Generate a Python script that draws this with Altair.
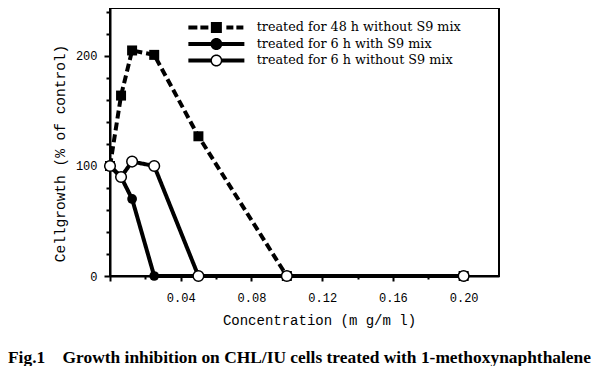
import altair as alt
import pandas as pd

# ---- data ----
conc = [0, 0.00625, 0.0125, 0.025, 0.05, 0.1, 0.2]
s48_noS9 = [100, 164, 205, 201, 127, 0, 0]
s6_S9 = [100, 90, 70, 0, 0, 0, 0]
s6_noS9 = [100, 90, 104, 100, 0, 0, 0]

series_names = [
    "treated for 48 h without S9 mix",
    "treated for 6 h with S9 mix",
    "treated for 6 h without S9 mix",
]
x_ticks = [0, 0.02, 0.04, 0.06, 0.08, 0.10, 0.12, 0.14, 0.16, 0.18, 0.20]
y_ticks = [0, 20, 40, 60, 80, 100, 120, 140, 160, 180, 200, 220, 240]

rows = []
for name, vals in zip(series_names, [s48_noS9, s6_S9, s6_noS9]):
    for c, v in zip(conc, vals):
        rows.append({"series": name, "conc": c, "growth": v})
df = pd.DataFrame(rows)

# legend symbols: line + marker as custom paths
path_dash_square = ("M-5.6,-0.4H-3.8V0.4H-5.6Z M-3.2,-0.4H-1.6V0.4H-3.2Z "
                    "M-1.1,-1.1H1.1V1.1H-1.1Z M2.0,-0.4H3.4V0.4H2.0Z M4.0,-0.4H5.4V0.4H4.0Z")
path_line_dot = ("M-5.6,-0.4H-1V0.4H-5.6Z M1,-0.4H5.6V0.4H1Z "
                 "M1.2,0A1.2,1.2,0,1,1,-1.2,0A1.2,1.2,0,1,1,1.2,0Z")
path_line_ring = ("M-5.6,-0.4H-1.05V0.4H-5.6Z M1.05,-0.4H5.6V0.4H1.05Z "
                  "M1.2,0A1.2,1.2,0,1,1,-1.2,0A1.2,1.2,0,1,1,1.2,0Z "
                  "M0.9,0A0.9,0.9,0,1,0,-0.9,0A0.9,0.9,0,1,0,0.9,0Z")

x_enc = alt.X(
    "conc:Q",
    scale=alt.Scale(domain=[0, 0.22], nice=False, zero=False),
    axis=alt.Axis(
        values=x_ticks,
        title="Concentration (m g/m l)",
        titleFont="Liberation Mono", titleFontSize=14, titleFontWeight="normal",
        titleX=209, titleY=44, titleBaseline="middle", titleAlign="center",
        labelFont="Liberation Mono", labelFontSize=12, labelColor="black",
        labelExpr="(round(datum.value*100) % 4 === 0 && datum.value > 0) ? format(datum.value, '.2f') : ''",
        labelOverlap=False, labelPadding=11, labelBaseline="top",
        tickSize={"condition": {"test": "round(datum.value*100) % 4 === 0", "value": 5}, "value": 3},
        grid=False,
    ),
)
y_enc = alt.Y(
    "growth:Q",
    scale=alt.Scale(domain=[0, 243.6], nice=False, zero=False),
    axis=alt.Axis(
        values=y_ticks,
        title="Cellgrowth (% of control)",
        titleFont="Liberation Mono", titleFontSize=14.5, titleFontWeight="normal",
        titleX=-50, titleY=145, titleBaseline="middle", titleAlign="center", titleAngle=-90,
        labelFont="Liberation Mono", labelFontSize=12, labelColor="black",
        labelExpr="datum.value % 100 === 0 ? datum.label : ''",
        labelOverlap=False, labelPadding=7,
        tickSize={"condition": {"test": "datum.value % 100 === 0", "value": 6}, "value": 4},
        grid=False,
    ),
)

base = alt.Chart(df).encode(x=x_enc, y=y_enc)

lines = base.mark_line(color="black", strokeWidth=4, strokeCap="butt").encode(
    strokeDash=alt.StrokeDash(
        "series:N",
        scale=alt.Scale(domain=series_names, range=[[8, 4], [1, 0], [1, 0]]),
        legend=None,
    )
)

# invisible layer (size 0) that only carries the legend
legend_layer = base.mark_point(
    filled=True, color="black", opacity=1, size=0
).encode(
    shape=alt.Shape(
        "series:N",
        scale=alt.Scale(domain=series_names,
                        range=[path_dash_square, path_line_dot, path_line_ring]),
        legend=alt.Legend(
            title=None, orient="none", legendX=100, legendY=13, padding=0,
            symbolSize=100, symbolStrokeWidth=0, symbolFillColor="black",
            symbolOpacity=1, labelFont="DejaVu Serif", labelFontSize=12.75,
            labelColor="black", labelOffset=34, labelLimit=400, rowPadding=2.5,
        ),
    )
)

squares = base.transform_filter(alt.datum.series == series_names[0]).mark_point(
    shape="square", size=100, filled=True, color="black", opacity=1
)
dots = base.transform_filter(alt.datum.series == series_names[1]).mark_point(
    shape="circle", size=95, filled=True, color="black", opacity=1
)
rings = base.transform_filter(alt.datum.series == series_names[2]).mark_point(
    shape="circle", size=113, filled=True, fill="white", stroke="black",
    strokeWidth=1.5, opacity=1
)

title_text = "Fig.1\u00a0\u00a0\u00a0\u00a0Growth inhibition on CHL/IU cells treated with 1-methoxynaphthalene"

chart = alt.layer(legend_layer, lines, squares, dots, rings).properties(
    width=389,
    height=268,
    autosize=alt.AutoSizeParams(type="none"),
    padding={"left": 102, "top": 0, "right": 93, "bottom": 90},
    title=alt.TitleParams(
        text=title_text, orient="bottom", anchor="start", frame="group",
        dx=-102, offset=22, font="Liberation Serif", fontSize=17.4,
        fontWeight="bold", color="black",
    ),
).configure_view(
    stroke="black", strokeWidth=2
).configure_axis(
    domainColor="black", domainWidth=2, tickColor="black", tickWidth=2,
    titleColor="black",
)

chart.save("out.html", embed_options={"renderer": "svg", "actions": False})
